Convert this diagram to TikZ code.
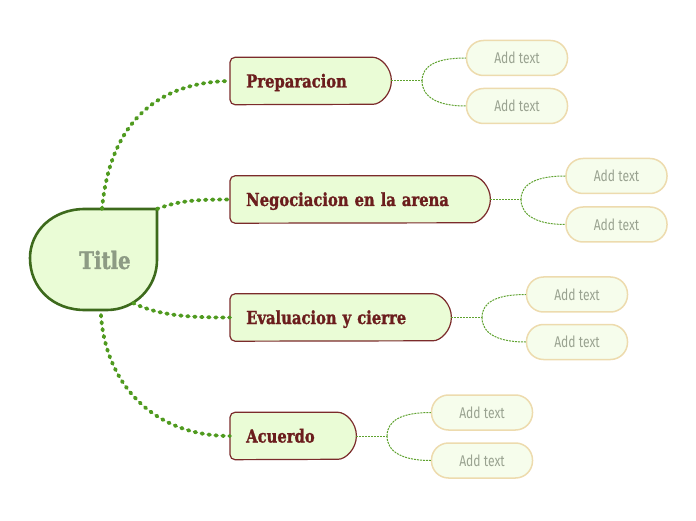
\documentclass[tikz,border=0pt]{standalone}
\usepackage{fontspec}
\usetikzlibrary{calc,backgrounds}
\newfontfamily\mainf[FakeStretch=0.82,FakeBold=1.3]{DejaVu Serif Bold}
\newfontfamily\addf[FakeStretch=0.78]{Fira Sans}
\definecolor{dotgreen}{HTML}{4F9A1F}
\definecolor{subgreen}{HTML}{5FA22F}
\definecolor{titleborder}{HTML}{3D6A1C}
\definecolor{mainfill}{HTML}{EAFCD6}
\definecolor{mainborder}{HTML}{7B2B2B}
\definecolor{maintext}{HTML}{6B1D1D}
\definecolor{addfill}{HTML}{F6FDEC}
\definecolor{addborder}{HTML}{EDDBAE}
\definecolor{addtext}{HTML}{9AA391}
\definecolor{titletext}{HTML}{8D9B84}
\tikzset{
  mainnode/.style={anchor=west, minimum height=47pt, inner xsep=16pt, inner ysep=0pt, align=left,
    text height=13pt, text depth=0pt,
    text=maintext, font=\mainf\fontsize{18}{19}\selectfont},
  mainshape/.style={fill=mainfill, draw=mainborder, line width=1.2pt, rounded corners=5pt},
  addnode/.style={draw=addborder, fill=addfill, line width=1.5pt, rounded corners=17pt,
    minimum width=101pt, minimum height=35pt, inner sep=0pt, text=addtext,
    font=\addf\fontsize{15.5}{17}\selectfont},
  dotline/.style={draw=dotgreen, line width=3.8pt, line cap=round, dash pattern=on 1.6pt off 5.4pt},
  subline/.style={draw=subgreen, line width=1pt, dash pattern=on 2pt off 1pt},
  titleshape/.style={fill=mainfill, draw=titleborder, line width=2.6pt, line join=miter},
}
\newcommand\drawmainshape[1]{%
  \path[mainshape] ([xshift=-23.5pt]#1.north east) arc[start angle=90,end angle=-90,radius=23.5pt]
    -- (#1.south west) -- (#1.north west) -- cycle;}
\begin{document}
\begin{tikzpicture}[x=1pt,y=1pt]
\useasboundingbox (0,0) rectangle (696,520);
% title
\draw[titleshape] (157,311) -- (157,260) .. controls (157,232.4) and (134.6,210) .. (107,210)
  -- (85,210) .. controls (52.4,210) and (30,232.4) .. (30,262)
  .. controls (30,288.6) and (52.4,311) .. (85,311) -- cycle;
\node[text=titletext, font=\mainf\fontsize{24}{26}\selectfont] (t) at (105,260) {Title};
\coordinate (ttop) at (102,311);
\coordinate (tcorner) at (157,311);
\coordinate (tbr) at (133,217);
\coordinate (tbot) at (101,205);
% main nodes
\node[mainnode, minimum width=161pt, text width=129pt] (p) at (230,439) {Preparacion};
\node[mainnode, minimum width=260pt, text width=228pt] (n) at (230,320.5) {Negociacion en la arena};
\node[mainnode, minimum width=221pt, text width=189pt] (e) at (230,202.5) {Evaluacion y cierre};
\node[mainnode, minimum width=126pt, text width=94pt] (a) at (230,84) {Acuerdo};
\begin{scope}[on background layer]
\drawmainshape{p}
\drawmainshape{n}
\drawmainshape{e}
\drawmainshape{a}
\end{scope}
% add text nodes
\node[addnode] (p1) at (517,462) {Add text};
\node[addnode] (p2) at (517,414) {Add text};
\node[addnode] (n1) at (616.5,344) {Add text};
\node[addnode] (n2) at (616.5,295.5) {Add text};
\node[addnode] (e1) at (577,225.5) {Add text};
\node[addnode] (e2) at (577,178) {Add text};
\node[addnode] (a1) at (482,107.5) {Add text};
\node[addnode] (a2) at (482,59.5) {Add text};
% junctions
\coordinate (pj) at (422,439);
\coordinate (nj) at (521,320.5);
\coordinate (ej) at (482,202.5);
\coordinate (aj) at (387,84);
% title connectors
\draw[dotline] (ttop) .. controls (110,400) and (160,438) .. (p.west);
\draw[dotline] (tcorner) .. controls (180,320) and (200,320.5) .. (n.west);
\draw[dotline] (tbr) .. controls (160,204) and (190,202.5) .. (e.west);
\draw[dotline] (tbot) .. controls (105,140) and (150,84) .. (a.west);
% sub connectors
\foreach \m/\j/\u/\d in {p/pj/p1/p2, n/nj/n1/n2, e/ej/e1/e2, a/aj/a1/a2}{
  \draw[subline] (\m.east) -- (\j);
  \draw[subline] (\j) .. controls +(0,16) and +(-28,0) .. (\u.west);
  \draw[subline] (\j) .. controls +(0,-16) and +(-28,0) .. (\d.west);
}
\end{tikzpicture}
\end{document}
